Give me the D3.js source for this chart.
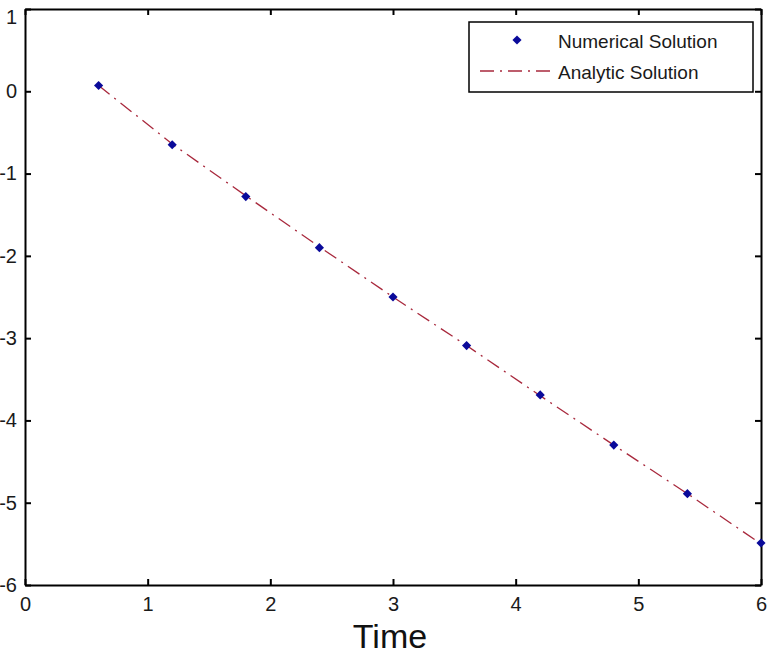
<!DOCTYPE html>
<html><head><meta charset="utf-8">
<script src="https://cdn.jsdelivr.net/npm/d3@7"></script>
<style>body{margin:0;background:#fff}svg{display:block}text{font-family:"Liberation Sans",Arial,sans-serif}</style>
</head><body>
<script>
const times = [0.6, 1.2, 1.8, 2.4, 3.0, 3.6, 4.2, 4.8, 5.4, 6.0];
const numerical = [0.07, -0.65, -1.28, -1.90, -2.50, -3.09, -3.69, -4.30, -4.89, -5.49];
const analytic = [0.07, -0.64, -1.27, -1.89, -2.50, -3.09, -3.70, -4.30, -4.89, -5.50];
const xTicks = [0, 1, 2, 3, 4, 5, 6];
const yTicks = [1, 0, -1, -2, -3, -4, -5, -6];
const legendLabels = ["Numerical Solution", "Analytic Solution"];

const W = 768, H = 654;
const L = 25, R = 761, T = 9, B = 585;
const svg = d3.select("body").append("svg").attr("width", W).attr("height", H);
const x = d3.scaleLinear().domain([0, 6]).range([L, R]);
const y = d3.scaleLinear().domain([-6, 1]).range([B, T]);
const fmt = d => String(d).replace("\u2212", "-");

const tl = 6;
const axB = d3.axisBottom(x).tickValues(xTicks).tickSizeInner(-tl).tickSizeOuter(0).tickPadding(12).tickFormat(fmt);
const axT = d3.axisTop(x).tickValues(xTicks).tickSizeInner(-tl).tickSizeOuter(0).tickFormat("");
const axL = d3.axisLeft(y).tickValues(yTicks).tickSizeInner(-tl).tickSizeOuter(0).tickPadding(8).tickFormat(fmt);
const axR = d3.axisRight(y).tickValues(yTicks).tickSizeInner(-tl).tickSizeOuter(0).tickFormat("");

function style(g){
  g.selectAll("path").attr("stroke","#000").attr("stroke-width",2);
  g.selectAll("line").attr("stroke","#000").attr("stroke-width",2);
  g.selectAll("text").attr("font-size",20).attr("fill","#1a1a1a").attr("font-family",'"Liberation Sans",Arial,sans-serif');
}
svg.append("g").attr("transform",`translate(0,${B})`).call(axB).call(style);
svg.append("g").attr("transform",`translate(0,${T})`).call(axT).call(style);
const gL = svg.append("g").attr("transform",`translate(${L},0)`).call(axL).call(style);
gL.selectAll(".tick text").filter(d => d === 1).attr("dy","0.7em");
svg.append("g").attr("transform",`translate(${R},0)`).call(axR).call(style);

const lineColor = "#a8283c";
const line = d3.line().x((d,i)=>x(times[i])).y(d=>y(d));
svg.append("path").datum(analytic).attr("d", line).attr("fill","none")
  .attr("stroke", lineColor).attr("stroke-width",1.3).attr("stroke-dasharray","14,6,2,6");

const diamond = d3.symbol().type(d3.symbolSquare).size(42);
svg.selectAll(".pt").data(numerical).enter().append("path")
  .attr("transform",(d,i)=>`translate(${x(times[i])},${y(d)}) rotate(45)`)
  .attr("d", diamond).attr("fill","#0a0a9a");

// legend
const lg = svg.append("g");
lg.append("rect").attr("x",469).attr("y",22).attr("width",284).attr("height",70)
  .attr("fill","#fff").attr("stroke","#000").attr("stroke-width",1.5);
lg.append("path").attr("transform","translate(517,40) rotate(45)").attr("d",diamond).attr("fill","#0a0a9a");
lg.append("line").attr("x1",480).attr("x2",552).attr("y1",71).attr("y2",71)
  .attr("stroke",lineColor).attr("stroke-width",1.3).attr("stroke-dasharray","14,6,2,6");
lg.selectAll("text").data(legendLabels).enter().append("text")
  .attr("x",558).attr("y",(d,i)=>48+i*31).attr("font-size",19).attr("fill","#1a1a1a").text(d=>d);

svg.append("text").attr("x",390).attr("y",648).attr("text-anchor","middle")
  .attr("font-size",34).attr("fill","#111").text("Time");
</script>
</body></html>
